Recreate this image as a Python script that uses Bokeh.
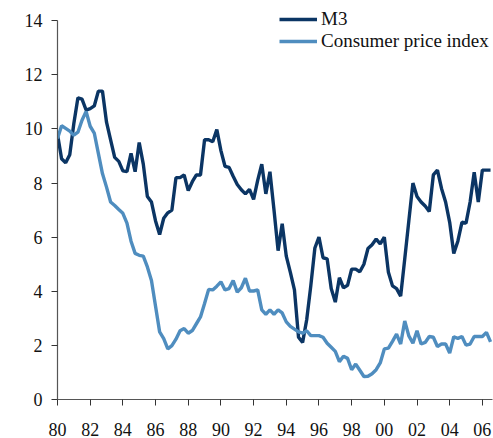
from bokeh.plotting import figure
from bokeh.models import FixedTicker, Legend, LegendItem, ColumnDataSource
from bokeh.embed import file_html
from bokeh.resources import INLINE

# Quarterly observations, first point = 1980 Q1
start_year = 1980.0
period = 0.25

m3 = [
    9.8, 8.9, 8.75, 9.05,      # 1980
    10.2, 11.15, 11.1, 10.7,   # 1981
    10.75, 10.85, 11.4, 11.4,  # 1982
    10.25, 9.6, 8.95, 8.8,     # 1983
    8.45, 8.42, 9.1, 8.42,     # 1984
    9.5, 8.7, 7.5, 7.3,        # 1985
    6.6, 6.1, 6.7, 6.9,        # 1986
    7.0, 8.2, 8.2, 8.3,        # 1987
    7.72, 8.05, 8.3, 8.3,      # 1988
    9.6, 9.6, 9.53, 9.98,      # 1989
    9.2, 8.62, 8.58, 8.25,     # 1990
    7.95, 7.75, 7.6, 7.77,     # 1991
    7.4, 8.1, 8.7, 7.6,        # 1992
    8.42, 7.0, 5.5, 6.5,       # 1993
    5.3, 4.7, 4.05, 2.3,       # 1994
    2.11, 2.95, 4.2, 5.6,      # 1995
    6.0, 5.24, 5.2, 4.1,       # 1996
    3.6, 4.5, 4.13, 4.22,      # 1997
    4.82, 4.82, 4.72, 5.0,     # 1998
    5.58, 5.72, 5.93, 5.75,    # 1999
    6.0, 4.7, 4.2, 4.1,        # 2000
    3.82, 5.2, 6.6, 8.0,       # 2001
    7.5, 7.3, 7.15, 6.95,      # 2002
    8.3, 8.48, 7.8, 7.3,       # 2003
    6.55, 5.4, 5.85, 6.55,     # 2004
    6.52, 7.3, 8.4, 7.3,       # 2005
    8.48, 8.48, 8.48,          # 2006
]

cpi = [
    9.65, 10.12, 10.02, 9.92,  # 1980
    9.77, 9.88, 10.32, 10.65,  # 1981
    10.1, 9.85, 9.1, 8.35,     # 1982
    7.85, 7.3, 7.17, 7.02,     # 1983
    6.88, 6.52, 5.85, 5.4,     # 1984
    5.33, 5.3, 4.9, 4.4,       # 1985
    3.45, 2.5, 2.25, 1.87,     # 1986
    1.99, 2.23, 2.54, 2.62,    # 1987
    2.45, 2.55, 2.8, 3.05,     # 1988
    3.55, 4.07, 4.05, 4.19,    # 1989
    4.35, 4.05, 4.1, 4.4,      # 1990
    3.97, 4.13, 4.48, 4.01,    # 1991
    4.01, 4.05, 3.31, 3.15,    # 1992
    3.31, 3.15, 3.31, 3.2,     # 1993
    2.87, 2.7, 2.6, 2.5,       # 1994
    2.45, 2.54, 2.36, 2.36,    # 1995
    2.36, 2.3, 2.08, 1.93,     # 1996
    1.78, 1.4, 1.6, 1.52,      # 1997
    1.1, 1.31, 1.08, 0.85,     # 1998
    0.86, 0.95, 1.1, 1.35,     # 1999
    1.87, 1.9, 2.15, 2.42,     # 2000
    2.05, 2.9, 2.35, 2.08,     # 2001
    2.54, 2.05, 2.11, 2.33,    # 2002
    2.3, 1.96, 2.05, 2.05,     # 2003
    1.72, 2.32, 2.26, 2.33,    # 2004
    2.01, 2.05, 2.33, 2.33,    # 2005
    2.33, 2.48, 2.13,          # 2006
]

series_names = ["M3", "Consumer price index"]
series_colors = ["#0b3564", "#4f8dbf"]

x_ticks = [1980, 1982, 1984, 1986, 1988, 1990, 1992, 1994, 1996, 1998, 2000, 2002, 2004, 2006]
x_tick_labels = ["80", "82", "84", "86", "88", "90", "92", "94", "96", "98", "00", "02", "04", "06"]
y_ticks = [0, 2, 4, 6, 8, 10, 12, 14]

dates = [start_year + period * i for i in range(len(m3))]

FONT = "Liberation Serif"

p = figure(
    width=493, height=438,
    x_range=(1980, 2006.62), y_range=(0, 14.6),
    output_backend="svg", toolbar_location=None,
    min_border_left=57, min_border_right=1, min_border_top=4, min_border_bottom=37,
)
p.outline_line_color = None
p.xgrid.grid_line_color = None
p.ygrid.grid_line_color = None
p.background_fill_color = "white"
p.border_fill_color = "white"

src = ColumnDataSource(dict(x=dates, m3=m3, cpi=cpi))
r_m3 = p.line("x", "m3", source=src, line_width=3.4, line_color=series_colors[0])
r_cpi = p.line("x", "cpi", source=src, line_width=3.4, line_color=series_colors[1])

for ax in (p.xaxis[0], p.yaxis[0]):
    ax.axis_line_color = "#555555"
    ax.axis_line_width = 1.2
    ax.major_tick_line_color = "#333333"
    ax.major_tick_out = 6
    ax.major_tick_in = 0
    ax.minor_tick_out = 0
    ax.minor_tick_in = 0
    ax.major_label_text_font = FONT
    ax.major_label_text_font_size = "18px"
    ax.major_label_text_color = "#111111"

p.xaxis.ticker = FixedTicker(ticks=x_ticks)
p.xaxis.major_label_overrides = {t: l for t, l in zip(x_ticks, x_tick_labels)}
p.xaxis.major_label_standoff = 17
p.yaxis.ticker = FixedTicker(ticks=y_ticks)
p.yaxis.major_label_standoff = 9
p.yaxis.bounds = (0, 14)

legend = Legend(
    items=[LegendItem(label=series_names[0], renderers=[r_m3]),
           LegendItem(label=series_names[1], renderers=[r_cpi])],
    location=(222, 347),
    orientation="vertical",
    padding=0, margin=0, spacing=0,
    glyph_width=38, glyph_height=20, label_height=20,
    label_standoff=4,
    label_text_font=FONT, label_text_font_size="19px", label_text_color="#111111",
    background_fill_alpha=0, border_line_color=None,
)
p.add_layout(legend, "center")

open("out.html", "w").write(file_html(p, INLINE))
